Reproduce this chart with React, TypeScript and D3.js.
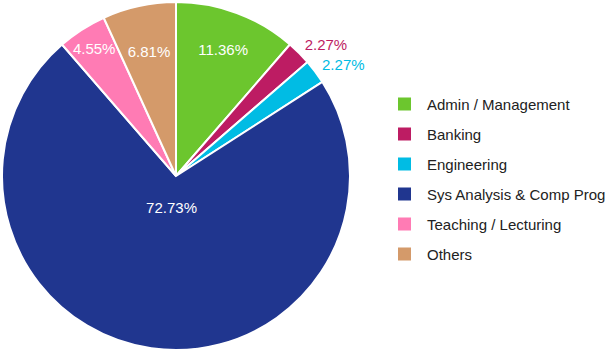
import React from "react";
import * as d3 from "d3";

const categories = [
  "Admin / Management",
  "Banking",
  "Engineering",
  "Sys Analysis & Comp Prog",
  "Teaching / Lecturing",
  "Others",
];
const counts = [5, 1, 1, 32, 2, 3];
const labels = ["11.36%", "2.27%", "2.27%", "72.73%", "4.55%", "6.81%"];
const colors = ["#6cc62e", "#bd1c63", "#00bce4", "#20368f", "#ff7bb4", "#d49a6a"];
const labelInside = [true, false, false, true, true, true];
const labelRadius = [0.775, 1.07, 1.07, 0.18, 0.87, 0.73];

export default function App() {
  const W = 605, H = 352;
  const cx = 176, cy = 176, R = 174;
  const pie = d3.pie<number>().value((d) => d).sort(null);
  const arcs = pie(counts);
  const arc = d3.arc<d3.PieArcDatum<number>>().innerRadius(0).outerRadius(R);
  const legendY = d3.scaleBand<string>().domain(categories).range([89, 269]);
  const font = "Arial, 'Liberation Sans', sans-serif";
  return (
    <svg width={W} height={H} style={{ position: "absolute", left: 0, top: 0 }} fontFamily={font}>
      <g transform={`translate(${cx},${cy})`}>
        {arcs.map((a, i) => (
          <path key={i} d={arc(a) || ""} fill={colors[i]} stroke="#fff" strokeWidth={2} />
        ))}
        {arcs.map((a, i) => {
          const mid = (a.startAngle + a.endAngle) / 2;
          const r = R * labelRadius[i];
          const x = Math.sin(mid) * r;
          const y = -Math.cos(mid) * r;
          return (
            <text
              key={i}
              x={labelInside[i] ? x : x - 3}
              y={y}
              fontSize={15}
              fill={labelInside[i] ? "#fff" : colors[i]}
              textAnchor={labelInside[i] ? "middle" : "start"}
              dominantBaseline="central"
            >
              {labels[i]}
            </text>
          );
        })}
      </g>
      {categories.map((c, i) => {
        const y = (legendY(c) || 0) + legendY.bandwidth() / 2;
        return (
          <g key={c}>
            <rect x={398} y={y - 6.5} width={13} height={13} fill={colors[i]} />
            <text x={427} y={y} fontSize={15} fill="#222" dominantBaseline="central">
              {c}
            </text>
          </g>
        );
      })}
    </svg>
  );
}
